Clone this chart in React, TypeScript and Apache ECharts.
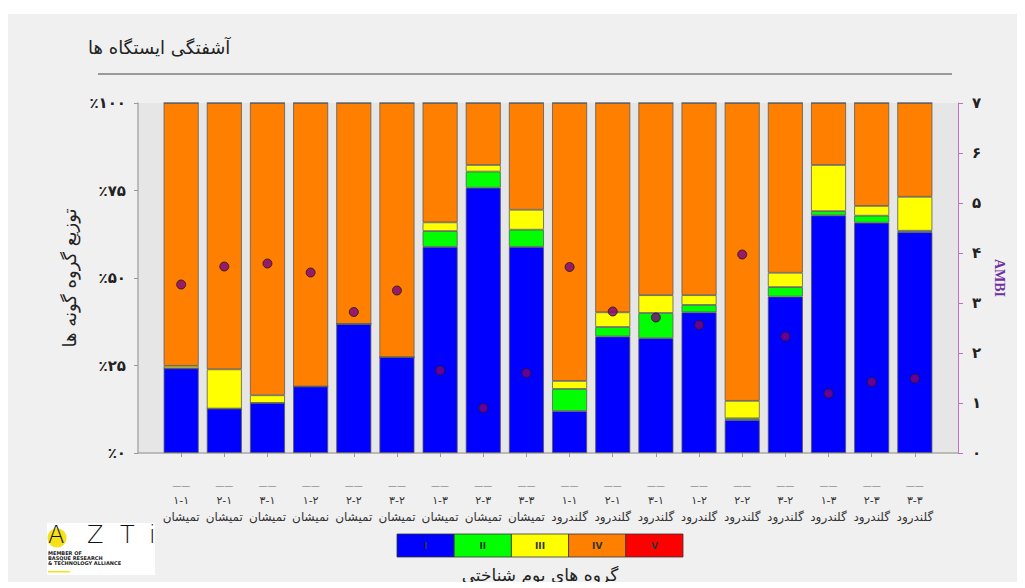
import React, { useEffect, useRef } from "react";
import * as echarts from "echarts";

const codes = ["۱-۱", "۲-۱", "۳-۱", "۱-۲", "۲-۲", "۳-۲", "۱-۳", "۲-۳", "۳-۳", "۱-۱", "۲-۱", "۳-۱", "۱-۲", "۲-۲", "۳-۲", "۱-۳", "۲-۳", "۳-۳"];
const stations = ["تمیشان", "تمیشان", "تمیشان", "نمیشان", "تمیشان", "تمیشان", "تمیشان", "تمیشان", "تمیشان", "گلندرود", "گلندرود", "گلندرود", "گلندرود", "گلندرود", "گلندرود", "گلندرود", "گلندرود", "گلندرود"];

const groupI = [24.2, 12.7, 14.3, 19.0, 36.9, 27.4, 58.9, 75.8, 58.9, 12.0, 33.3, 32.8, 40.2, 9.4, 44.7, 67.9, 65.8, 63.1];
const groupII = [0, 0, 0, 0, 0, 0, 4.5, 4.6, 4.9, 6.3, 2.7, 7.2, 2.1, 0.5, 2.7, 1.2, 2.0, 0.4];
const groupIII = [0.7, 11.2, 2.2, 0, 0, 0, 2.5, 1.9, 5.7, 2.3, 4.2, 5.1, 2.8, 5.0, 4.1, 13.2, 2.8, 9.7];
const groupIV = [75.1, 76.1, 83.5, 81.0, 63.1, 72.6, 34.1, 17.7, 30.5, 79.4, 59.8, 54.9, 54.9, 85.1, 48.5, 17.7, 29.4, 26.8];
const groupV = [0, 0, 0, 0, 0, 0, 0, 0, 0, 0, 0, 0, 0, 0, 0, 0, 0, 0];
const ambi = [3.37, 3.73, 3.79, 3.61, 2.82, 3.25, 1.65, 0.9, 1.6, 3.72, 2.83, 2.71, 2.56, 3.97, 2.33, 1.19, 1.42, 1.49];

const groupNames = ["I", "II", "III", "IV", "V"];
const groupColors = ["#0000ff", "#00ff00", "#ffff00", "#ff8000", "#ff0000"];
const leftTicks: Record<number, string> = { 0: "٪۰", 25: "٪۲۵", 50: "٪۵۰", 75: "٪۷۵", 100: "٪۱۰۰" };
const rightTicks = ["۰", "۱", "۲", "۳", "۴", "۵", "۶", "۷"];

const FONT = "DejaVu Sans";

export default function App() {
  const ref = useRef<HTMLDivElement>(null);
  useEffect(() => {
    if (!ref.current) return;
    const chart = echarts.init(ref.current, null, { renderer: "svg" });
    // padded category list: an empty slot at each end so bars sit one step in from the axes
    const cats = ["", ...codes.map((_, i) => String(i + 1)), " "];
    const pad = (arr: number[]) => ["-", ...arr, "-"];
    const isBar = (idx: number) => idx >= 1 && idx <= codes.length;
    const groups = [groupI, groupII, groupIII, groupIV, groupV];
    const barSeries = groups.map((g, k) => ({
      type: "bar",
      name: groupNames[k],
      stack: "total",
      barWidth: 35,
      data: pad(g),
      itemStyle: { color: groupColors[k], borderColor: "#5a5a5a", borderWidth: 0.8 },
      emphasis: { disabled: true },
    }));

    const legendW = 57.2;
    const legendEls: any[] = [];
    groupNames.forEach((n, k) => {
      legendEls.push({
        type: "rect",
        shape: { x: 389 + k * legendW, y: 520, width: legendW, height: 23 },
        style: { fill: groupColors[k], stroke: "#333", lineWidth: 0.8 },
      });
      legendEls.push({
        type: "text",
        x: 389 + k * legendW + legendW / 2,
        y: 531.5,
        style: { text: n, fill: "#333", font: `bold 9px ${FONT}`, align: "center", verticalAlign: "middle" },
      });
    });

    const option: any = {
      animation: false,
      backgroundColor: "#f0f0f0",
      grid: {
        left: 130,
        top: 89,
        width: 820,
        height: 350,
        show: true,
        backgroundColor: "#e6e6e6",
        borderWidth: 0,
      },
      xAxis: {
        type: "category",
        data: cats,
        boundaryGap: false,
        splitLine: { show: false },
        axisLine: { show: true, lineStyle: { color: "#aaaaaa", width: 1.5 } },
        axisTick: { show: true, interval: (idx: number) => isBar(idx), length: 4, lineStyle: { color: "#999" } },
        axisLabel: {
          interval: (idx: number) => isBar(idx),
          margin: 25,
          formatter: (_v: string, idx: number) => {
            if (!isBar(idx)) return "";
            const i = idx - 1;
            return `{d|——}\n{c|${codes[i]}}\n{s|${stations[i]}}`;
          },
          rich: {
            d: { fontSize: 9, color: "#666", lineHeight: 15, fontFamily: FONT },
            c: { fontSize: 11, color: "#333", lineHeight: 15, fontFamily: FONT },
            s: { fontSize: 12, color: "#333", lineHeight: 17, fontFamily: FONT },
          },
        },
      },
      yAxis: [
        {
          type: "value",
          min: 0,
          max: 100,
          interval: 25,
          position: "left",
          splitLine: { show: false },
          axisLine: { show: true, lineStyle: { color: "#aaaaaa", width: 1.5 } },
          axisTick: { show: true, length: 4, lineStyle: { color: "#999" } },
          axisLabel: {
            margin: 12,
            formatter: (v: number) => leftTicks[v] ?? "",
            color: "#222",
            fontSize: 15,
            fontWeight: "bold",
            fontFamily: FONT,
          },
          name: "توزیع گروه گونه ها",
          nameLocation: "middle",
          nameGap: 52,
          nameRotate: 90,
          nameTextStyle: { fontSize: 18, color: "#222", fontFamily: FONT },
        },
        {
          type: "value",
          min: 0,
          max: 7,
          interval: 1,
          position: "right",
          splitLine: { show: false },
          axisLine: { show: true, lineStyle: { color: "#c070c0", width: 1 } },
          axisTick: { show: true, length: 5, lineStyle: { color: "#c070c0" } },
          axisLabel: {
            margin: 14,
            formatter: (v: number) => rightTicks[Math.round(v)] ?? "",
            color: "#222",
            fontSize: 15,
            fontWeight: "bold",
            fontFamily: FONT,
          },
          name: "AMBI",
          nameLocation: "middle",
          nameGap: 34,
          nameRotate: -90,
          nameTextStyle: { fontSize: 14, color: "#7030a0", fontFamily: "Liberation Serif", fontWeight: "bold" },
        },
      ],
      series: [
        ...barSeries,
        {
          type: "scatter",
          name: "AMBI",
          yAxisIndex: 1,
          symbolSize: 9,
          z: 5,
          data: pad(ambi),
          itemStyle: { color: "#800080", borderColor: "#1a1a1a", borderWidth: 1 },
          emphasis: { disabled: true },
        },
      ],
      graphic: [
        {
          type: "text",
          x: 80,
          y: 33,
          style: { text: "آشفتگی ایستگاه ها", fill: "#222", font: `18px ${FONT}`, verticalAlign: "middle" },
        },
        {
          type: "line",
          shape: { x1: 90, y1: 60, x2: 944, y2: 60 },
          style: { stroke: "#444", lineWidth: 1 },
        },
        ...legendEls,
        {
          type: "text",
          x: 532,
          y: 561,
          style: { text: "گروه های بوم شناختی", fill: "#222", font: `17px ${FONT}`, align: "center", verticalAlign: "middle" },
        },
        {
          type: "group",
          children: [
            { type: "rect", shape: { x: 39, y: 509, width: 108, height: 52 }, style: { fill: "#ffffff" } },
            { type: "circle", shape: { cx: 49, cy: 524, r: 9.5 }, style: { fill: "#f5e11a" } },
            { type: "text", x: 40, y: 521, style: { text: "A", fill: "#111", font: `300 24px ${FONT}`, verticalAlign: "middle" } },
            { type: "text", x: 79, y: 521, style: { text: "Z", fill: "#111", font: `300 24px ${FONT}`, verticalAlign: "middle" } },
            { type: "text", x: 112, y: 521, style: { text: "T", fill: "#111", font: `300 24px ${FONT}`, verticalAlign: "middle" } },
            { type: "text", x: 141, y: 521, style: { text: "i", fill: "#111", font: `300 24px ${FONT}`, verticalAlign: "middle" } },
            { type: "text", x: 40, y: 539, style: { text: "MEMBER OF", fill: "#222", font: `bold 5px ${FONT}`, verticalAlign: "middle" } },
            { type: "text", x: 40, y: 544, style: { text: "BASQUE RESEARCH", fill: "#222", font: `bold 5px ${FONT}`, verticalAlign: "middle" } },
            { type: "text", x: 40, y: 549, style: { text: "& TECHNOLOGY ALLIANCE", fill: "#222", font: `bold 5px ${FONT}`, verticalAlign: "middle" } },
            { type: "rect", shape: { x: 40, y: 557, width: 22, height: 1.5 }, style: { fill: "#f5e11a" } },
          ],
        },
      ],
    };
    chart.setOption(option);
    return () => chart.dispose();
  }, []);
  return (
    <div
      ref={ref}
      style={{ position: "relative", top: 6, width: 1009, height: 574, background: "#f0f0f0" }}
    />
  );
}
